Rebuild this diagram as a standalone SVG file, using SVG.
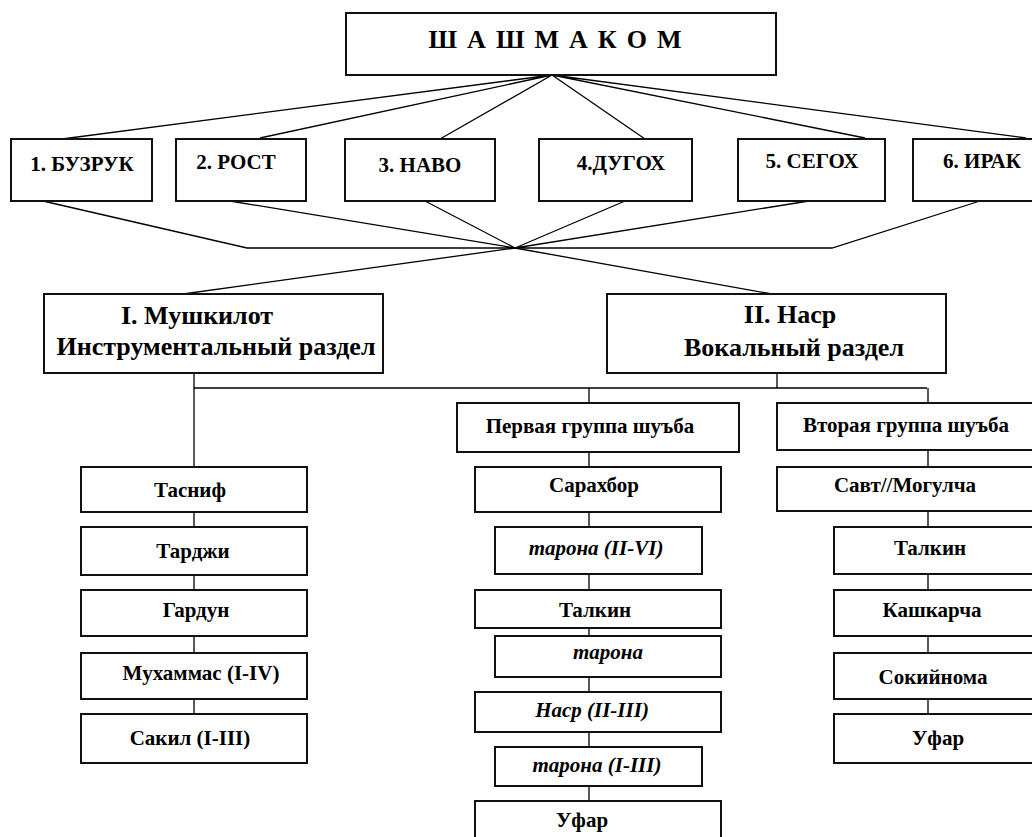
<svg xmlns="http://www.w3.org/2000/svg" width="1032" height="837" viewBox="0 0 1032 837">
<style>
.b{fill:#fff;stroke:#111;stroke-width:2}
.c{fill:none;stroke:#000;stroke-width:1.3}
text{font-family:"Liberation Serif","Times New Roman",serif;font-weight:bold;fill:#000;text-anchor:middle}
.t{font-size:21px}
.h{font-size:26px}
.i{font-style:italic}
</style>
<rect width="1032" height="837" fill="#fff"/>
<g id="connectors">
<path class="c" d="M552,75L62,139M552,75L260,138M552,75L440,139M552,75L645,139M552,75L865,138M552,75L1026,138"/>
<path class="c" d="M43,201L247,248L832,248L980,201M230,201L515,248M425,201L515,248M625,201L515,248M809,201L515,248"/>
<path class="c" d="M515,248L183,294M515,248L772,294"/>
<path class="c" d="M194,373V714M194,388H927M777,373V388M589,388V801M928,388V714"/>
</g>
<g id="n-shashmakom"><rect class="b" x="346" y="13" width="430" height="62"/><text x="555" y="48" style="font-size:26px" textLength="253" lengthAdjust="spacing">Ш А Ш М А К О М</text></g>
<g id="n-buzruk"><rect class="b" x="11" y="139" width="141" height="62"/><text class="t" x="82" y="171">1. БУЗРУК</text></g>
<g id="n-rost"><rect class="b" x="176" y="139" width="130" height="62"/><text class="t" x="236" y="169">2. РОСТ</text></g>
<g id="n-navo"><rect class="b" x="345" y="139" width="150" height="62"/><text class="t" x="420" y="172">3. НАВО</text></g>
<g id="n-dugoh"><rect class="b" x="539" y="139" width="153" height="62"/><text class="t" x="621" y="170">4.ДУГОХ</text></g>
<g id="n-segoh"><rect class="b" x="738" y="139" width="147" height="62"/><text class="t" x="812" y="168">5. СЕГОХ</text></g>
<g id="n-irak"><rect class="b" x="913" y="139" width="130" height="62"/><text class="t" x="982" y="168">6. ИРАК</text></g>
<g id="n-mushkilot"><rect class="b" x="44" y="294" width="339" height="79"/><text class="h" x="197" y="324">I. Мушкилот</text><text class="h" x="216" y="355">Инструментальный раздел</text></g>
<g id="n-nasr"><rect class="b" x="607" y="294" width="339" height="79"/><text class="h" x="790" y="323">II. Наср</text><text class="h" x="794" y="356">Вокальный раздел</text></g>
<g id="n-tasnif"><rect class="b" x="81" y="467" width="226" height="45"/><text class="t" x="190" y="497">Тасниф</text></g>
<g id="n-tardzhi"><rect class="b" x="81" y="527" width="226" height="48"/><text class="t" x="193" y="558">Тарджи</text></g>
<g id="n-gardun"><rect class="b" x="81" y="590" width="226" height="46"/><text class="t" x="196" y="617">Гардун</text></g>
<g id="n-muhammas"><rect class="b" x="81" y="653" width="226" height="46"/><text class="t" x="201" y="680">Мухаммас (I-IV)</text></g>
<g id="n-sakil"><rect class="b" x="81" y="714" width="226" height="49"/><text class="t" x="190" y="745">Сакил (I-III)</text></g>
<g id="n-group1"><rect class="b" x="457" y="403" width="282" height="49"/><text class="t" x="590" y="433">Первая группа шуъба</text></g>
<g id="n-sarahbor"><rect class="b" x="475" y="467" width="246" height="45"/><text class="t" x="594" y="492">Сарахбор</text></g>
<g id="n-tarona1"><rect class="b" x="495" y="527" width="207" height="47"/><text class="t i" x="596" y="555">тарона (II-VI)</text></g>
<g id="n-talkin1"><rect class="b" x="475" y="590" width="246" height="38"/><text class="t" x="595" y="617">Талкин</text></g>
<g id="n-tarona2"><rect class="b" x="495" y="636" width="226" height="41"/><text class="t i" x="608" y="659">тарона</text></g>
<g id="n-nasr23"><rect class="b" x="475" y="692" width="246" height="40"/><text class="t i" x="592" y="717">Наср (II-III)</text></g>
<g id="n-tarona3"><rect class="b" x="495" y="747" width="207" height="39"/><text class="t i" x="597" y="772">тарона (I-III)</text></g>
<g id="n-ufar1"><rect class="b" x="475" y="801" width="246" height="42"/><text class="t" x="582" y="827">Уфар</text></g>
<g id="n-group2"><rect class="b" x="777" y="403" width="266" height="47"/><text class="t" x="906" y="432">Вторая группа шуъба</text></g>
<g id="n-savt"><rect class="b" x="777" y="467" width="266" height="44"/><text class="t" x="905" y="492">Савт//Могулча</text></g>
<g id="n-talkin2"><rect class="b" x="834" y="527" width="209" height="47"/><text class="t" x="930" y="555">Талкин</text></g>
<g id="n-kashkarcha"><rect class="b" x="834" y="590" width="209" height="46"/><text class="t" x="932" y="617">Кашкарча</text></g>
<g id="n-sokiynoma"><rect class="b" x="834" y="653" width="209" height="46"/><text class="t" x="933" y="684">Сокийнома</text></g>
<g id="n-ufar2"><rect class="b" x="834" y="714" width="209" height="49"/><text class="t" x="938" y="745">Уфар</text></g>
</svg>
